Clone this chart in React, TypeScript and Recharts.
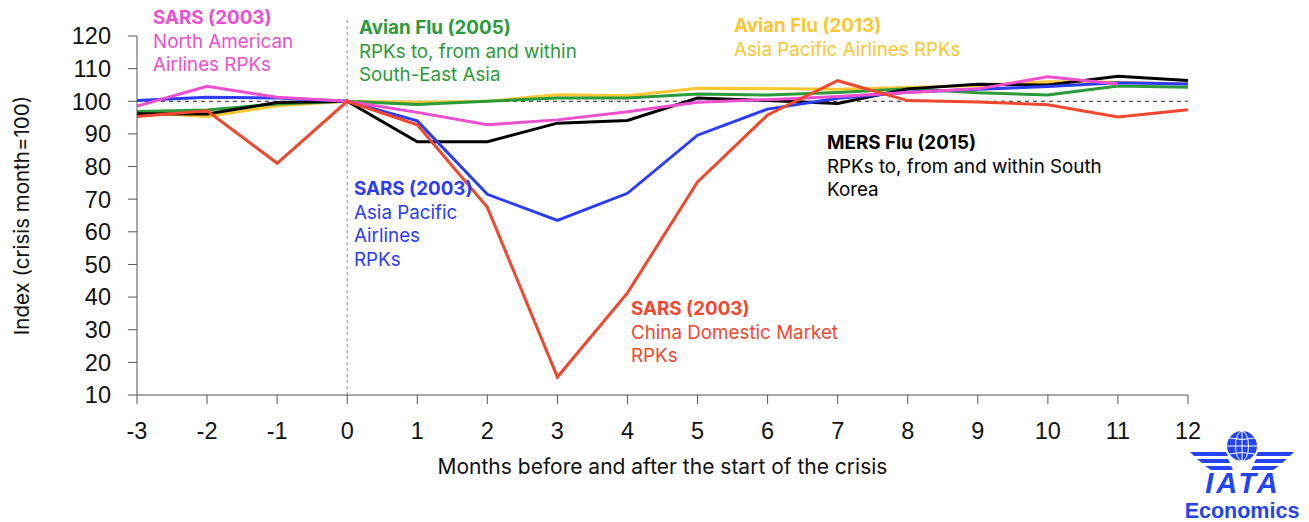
import React from 'react';
import {
  LineChart, Line, XAxis, YAxis, ReferenceLine, Label,
} from 'recharts';

const months = [-3, -2, -1, 0, 1, 2, 3, 4, 5, 6, 7, 8, 9, 10, 11, 12];
const sarsChina = [95.3, 97.1, 81, 100, 92.8, 67.5, 15.5, 41.3, 75.3, 95.8, 106.3, 100.2, 99.8, 98.9, 95.2, 97.4];
const sarsAsiaPacific = [100.2, 101.2, 101, 100, 94, 71.5, 63.5, 71.8, 89.6, 97.6, 100.9, 102.8, 103.7, 104.5, 105.7, 105.3];
const sarsNorthAmerica = [98.5, 104.6, 101.2, 100, 96.6, 92.8, 94.3, 96.8, 99.7, 100.5, 101.5, 102.7, 103.8, 107.5, 105.3, null];
const mers2015 = [96.2, 96.1, 99.6, 100, 87.6, 87.6, 93.3, 94.1, 101, 100.2, 99.3, 103.8, 105.2, 105, 107.7, 106.4];
const avian2013 = [96.6, 95.3, 98.6, 100, 99.7, 100, 102, 101.7, 104, 103.9, 103.7, 104.2, 104.8, 106, 105.8, 105.3];
const avian2005 = [96.9, 97.3, 99.2, 100, 99, 100, 101, 101, 102.2, 101.9, 102.7, 103.8, 102.6, 101.9, 104.7, 104.3];
const yTicks = [10, 20, 30, 40, 50, 60, 70, 80, 90, 100, 110, 120];

const data = months.map((m, i) => ({
  month: m,
  china: sarsChina[i],
  apac: sarsAsiaPacific[i],
  na: sarsNorthAmerica[i],
  mers: mers2015[i],
  av13: avian2013[i],
  av05: avian2005[i],
}));

const RED = '#f0482f';
const BLUE = '#2b3cf6';
const PINK = '#ee4fcf';
const YELLOW = '#fcc631';
const GREEN = '#2b9a3a';
const LOGO = '#2443f2';

const annoFont = 'Inter, "Noto Sans", sans-serif';

interface NoteProps {
  left: number;
  top: number;
  color: string;
  title: string;
  lines: string[];
}

function Note({ left, top, color, title, lines }: NoteProps) {
  return (
    <div style={{
      position: 'absolute', left, top, color, fontFamily: annoFont,
      fontSize: 18.8, lineHeight: '23.5px', whiteSpace: 'nowrap',
    }}>
      <div style={{ fontWeight: 700 }}>{title}</div>
      {lines.map((l, i) => <div key={i}>{l}</div>)}
    </div>
  );
}

function IataLogo() {
  return (
    <div style={{ position: 'absolute', left: 1180, top: 428, width: 125, height: 94 }}>
      <svg width={125} height={94}>
        <circle cx={62} cy={18} r={15} fill={LOGO} />
        <g fill="none" stroke="#fff" strokeWidth={1}>
          <ellipse cx={62} cy={18} rx={6.5} ry={15} />
          <line x1={62} y1={3} x2={62} y2={33} />
          <line x1={47} y1={18} x2={77} y2={18} />
          <path d="M49 10 Q62 13 75 10" />
          <path d="M49 26 Q62 23 75 26" />
        </g>
        <g fill={LOGO}>
          <polygon points="10,24 46,24 48,28 14,28" />
          <polygon points="17,31 48,31 50,35 22,35" />
          <polygon points="25,38 51,38 53,42 31,42" />
          <polygon points="114,24 78,24 76,28 110,28" />
          <polygon points="107,31 76,31 74,35 102,35" />
          <polygon points="99,38 73,38 71,42 93,42" />
        </g>
        <text x={63} y={65} textAnchor="middle" fill={LOGO} fontFamily='"Liberation Sans", Arial, sans-serif'
          fontWeight={700} fontStyle="italic" fontSize={29} letterSpacing={3}>IATA</text>
        <text x={62} y={90} textAnchor="middle" fill={LOGO} fontFamily='"Liberation Sans", Arial, sans-serif'
          fontWeight={700} fontSize={21.5}>Economics</text>
      </svg>
    </div>
  );
}

const tickStyle = { fontSize: 23.5, fill: '#111', fontFamily: '"Liberation Sans", Arial, sans-serif' };

export default function App() {
  return (
    <div style={{ position: 'absolute', left: 0, top: 0, width: 1309, height: 522, background: '#fff' }}>
      <LineChart width={1309} height={522} data={data} margin={{ top: 36, right: 121, left: 0, bottom: 0 }}>
        <XAxis
          dataKey="month"
          type="number"
          domain={[-3, 12]}
          ticks={months}
          interval={0}
          height={127}
          tick={tickStyle}
          tickSize={9}
          tickMargin={18}
          stroke="#555"
        >
          <Label
            content={({ viewBox }: any) => (
              <text x={viewBox.x + viewBox.width / 2} y={474} textAnchor="middle"
                fontFamily={annoFont} fontSize={21} fill="#111">
                Months before and after the start of the crisis
              </text>
            )}
          />
        </XAxis>
        <YAxis
          type="number"
          domain={[10, 120]}
          ticks={yTicks}
          interval={0}
          width={137}
          tick={tickStyle}
          tickSize={9}
          tickMargin={17}
          stroke="#555"
        >
          <Label
            content={({ viewBox }: any) => {
              const cy = viewBox.y + viewBox.height / 2;
              return (
                <text x={29} y={cy} textAnchor="middle" transform={`rotate(-90, 29, ${cy})`}
                  fontFamily={annoFont} fontSize={20.5} fill="#111">
                  Index (crisis month=100)
                </text>
              );
            }}
          />
        </YAxis>
        <ReferenceLine y={100} stroke="#222" strokeDasharray="4 4" strokeWidth={1} />
        <ReferenceLine
          segment={[{ x: 0, y: 10 }, { x: 0, y: 125.5 }]}
          ifOverflow="visible"
          stroke="#888"
          strokeDasharray="3 3"
          strokeWidth={1}
        />
        <Line dataKey="av13" stroke={YELLOW} strokeWidth={3} dot={false} isAnimationActive={false} />
        <Line dataKey="av05" stroke={GREEN} strokeWidth={3} dot={false} isAnimationActive={false} />
        <Line dataKey="mers" stroke="#000" strokeWidth={3} dot={false} isAnimationActive={false} />
        <Line dataKey="apac" stroke={BLUE} strokeWidth={3} dot={false} isAnimationActive={false} />
        <Line dataKey="na" stroke={PINK} strokeWidth={3} dot={false} isAnimationActive={false} />
        <Line dataKey="china" stroke={RED} strokeWidth={3} dot={false} isAnimationActive={false} />
      </LineChart>
      <Note left={153} top={6} color={PINK} title="SARS (2003)" lines={['North American', 'Airlines RPKs']} />
      <Note left={359} top={16} color={GREEN} title="Avian Flu (2005)" lines={['RPKs to, from and within', 'South-East Asia']} />
      <Note left={734} top={14} color={YELLOW} title="Avian Flu (2013)" lines={['Asia Pacific Airlines RPKs']} />
      <Note left={827} top={131} color="#000" title="MERS Flu (2015)" lines={['RPKs to, from and within South', 'Korea']} />
      <Note left={354} top={177} color={BLUE} title="SARS (2003)" lines={['Asia Pacific', 'Airlines', 'RPKs']} />
      <Note left={631} top={297} color={RED} title="SARS (2003)" lines={['China Domestic Market', 'RPKs']} />
      <IataLogo />
    </div>
  );
}
